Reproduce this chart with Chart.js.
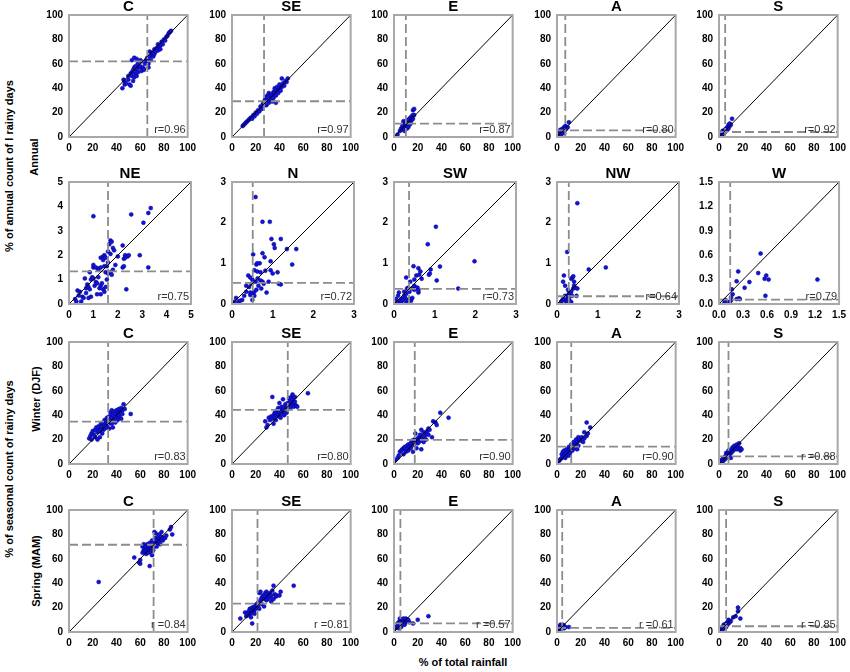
<!DOCTYPE html>
<html>
<head>
<meta charset="utf-8">
<script src="https://cdn.jsdelivr.net/npm/chart.js@4.4.1/dist/chart.umd.min.js"></script>
<style>
body {
    margin: 0;
    width: 850px;
    height: 672px;
    background: #fff;
    position: relative;
    overflow: hidden;
    font-family: "Liberation Sans", Arial, sans-serif;
}
canvas.panel { position: absolute; }
.ytitle, .xtitle {
    position: absolute;
    font-weight: bold;
    font-size: 11px;
    color: #000;
    white-space: nowrap;
}
.ytitle { transform: translate(-50%, -50%) rotate(-90deg); }
.xtitle { transform: translate(-50%, -50%); }
</style>
</head>
<body>

<div class="ytitle" style="left:9px; top:166px;">% of annual count of l rainy days</div>
<div class="ytitle" style="left:34px; top:157px;">Annual</div>
<div class="ytitle" style="left:9px; top:469px;">% of seasonal count of rainy days</div>
<div class="ytitle" style="left:36px; top:399px;">Winter (DJF)</div>
<div class="ytitle" style="left:36px; top:571px;">Spring (MAM)</div>
<div class="xtitle" style="left:463px; top:662px;">% of total rainfall</div>

<script>

// ================================
// DATA
// ================================

// tick values
const ticks100 = [0, 20, 40, 60, 80, 100];
const ticks5 = [0, 1, 2, 3, 4, 5];
const ticks3 = [0, 1, 2, 3];
const ticks15 = [0, 0.3, 0.6, 0.9, 1.2, 1.5];

// row 1 - annual, heavy classes
const annC = [[45,40],[46,47],[47,43],[47,45],[48,44],[50,50],[50,47],[51,43],[52,42],[52,52],[53,53],[53,50],[53,63],[54,55],[54,46],[55,49],[55,57],[55,65],[56,52],[56,58],[57,50],[57,55],[57,64],[58,53],[58,60],[59,57],[60,63],[60,58],[61,62],[61,54],[62,57],[63,56],[63,55],[64,60],[65,63],[66,65],[66,62],[67,60],[67,57],[68,66],[68,70],[69,63],[70,67],[70,69],[71,66],[72,68],[72,72],[73,70],[74,73],[75,71],[75,76],[76,74],[77,75],[77,72],[78,78],[79,76],[80,80],[81,79],[82,82],[83,83],[84,85],[85,86],[86,87]];
const annSE = [[9,9],[10,10],[11,11],[12,12],[13,13],[14,14],[15,15],[16,16],[17,15],[18,18],[19,17],[20,20],[21,19],[22,22],[23,21],[24,25],[25,23],[26,27],[27,29],[27,26],[28,31],[29,33],[29,26],[30,30],[30,34],[31,28],[31,36],[32,33],[33,35],[33,31],[34,34],[34,29],[35,37],[35,32],[36,36],[36,40],[37,34],[37,28],[38,38],[38,41],[39,36],[40,40],[40,43],[41,38],[42,48],[42,41],[43,44],[44,42],[45,46],[46,45],[47,48]];
const annE = [[3,2],[5,5],[6,7],[7,6],[7,9],[8,8],[8,11],[8,13],[9,10],[9,7],[9,5],[10,12],[10,9],[10,13],[11,13],[11,10],[11,7],[12,11],[12,14],[12,8],[13,12],[13,15],[13,10],[14,13],[14,16],[14,11],[15,14],[15,17],[16,15],[16,18],[16,22],[17,23],[17,18]];
const annA = [[1,1],[2,2],[2,3],[2,5],[3,1],[3,2],[3,4],[3,6],[4,3],[4,5],[4,6],[5,4],[5,5],[5,7],[6,3],[6,5],[6,6],[6,8],[7,6],[7,7],[7,9],[8,7],[8,8],[9,8],[10,12]];
const annS = [[0.5,0.5],[1,1],[1,2],[2,1],[2,2],[2,3],[3,2],[3,3],[3,4],[3,5],[4,3],[4,4],[4,5],[5,4],[5,5],[5,6],[6,5],[6,6],[6,7],[7,6],[7,8],[8,7],[8,10],[9,9],[9,11],[10,10],[11,15]];

// row 2 - annual, rare classes
const annNE = [[0,0],[0.25,0.2],[0.3,0.1],[0.35,0.55],[0.4,0.35],[0.45,0.5],[0.5,0.1],[0.55,0.3],[0.6,0.25],[0.65,1.05],[0.7,0.65],[0.7,0.45],[0.75,0.8],[0.8,0.7],[0.8,0.25],[0.85,0.6],[0.85,1.3],[0.9,1.0],[0.9,0.3],[0.95,1.1],[1.0,1.05],[1.0,1.5],[1.0,1.6],[1.0,3.6],[1.05,0.75],[1.1,0.9],[1.1,1.5],[1.15,0.85],[1.15,0.4],[1.2,1.1],[1.2,1.45],[1.2,1.4],[1.25,0.65],[1.3,0.75],[1.3,1.5],[1.3,1.9],[1.3,0.4],[1.35,0.85],[1.4,0.6],[1.4,1.8],[1.4,1.95],[1.45,0.5],[1.45,2.0],[1.45,1.55],[1.5,0.7],[1.5,1.9],[1.5,1.3],[1.55,1.0],[1.55,1.55],[1.6,1.7],[1.6,2.15],[1.6,1.25],[1.65,2.45],[1.7,2.6],[1.7,2.05],[1.7,1.3],[1.75,2.55],[1.75,1.2],[1.8,1.4],[1.8,2.3],[1.85,2.2],[1.9,1.6],[2.0,1.95],[2.2,2.4],[2.2,1.5],[2.25,1.85],[2.25,1.55],[2.3,2.0],[2.3,1.9],[2.35,0.6],[2.4,1.95],[2.45,2.0],[2.55,3.67],[2.9,2.0],[3.05,3.33],[3.25,3.73],[3.25,1.5],[3.35,3.93]];
const annN = [[0,0],[0.05,0.05],[0.1,0.15],[0.15,0.05],[0.2,0.08],[0.25,0.1],[0.3,0.2],[0.35,0.3],[0.35,0.45],[0.4,0.7],[0.42,0.42],[0.45,0.22],[0.45,0.65],[0.45,0.28],[0.48,0.5],[0.5,0.25],[0.5,0.1],[0.5,0.6],[0.52,1.22],[0.55,0.3],[0.55,0.83],[0.55,0.2],[0.58,0.55],[0.58,2.63],[0.6,0.35],[0.6,0.97],[0.62,1.0],[0.62,0.8],[0.63,0.63],[0.65,0.45],[0.68,1.0],[0.7,0.78],[0.7,0.58],[0.72,0.38],[0.75,1.25],[0.75,0.55],[0.75,2.02],[0.78,0.5],[0.8,1.15],[0.82,0.82],[0.85,0.28],[0.9,0.55],[0.93,2.02],[0.95,1.05],[0.95,0.83],[0.97,1.6],[1.0,0.75],[1.03,1.47],[1.05,1.38],[1.12,0.78],[1.15,0.5],[1.2,0.48],[1.2,1.6],[1.35,1.35],[1.48,0.97],[1.58,1.35]];
const annSW = [[0,0],[0.05,0.12],[0.08,0.05],[0.1,0.2],[0.12,0.28],[0.15,0.08],[0.18,0.05],[0.2,0.12],[0.22,0.1],[0.25,0.2],[0.25,0.3],[0.28,0.15],[0.3,0.25],[0.3,0.05],[0.3,0.65],[0.32,0.38],[0.35,0.4],[0.35,0.1],[0.38,0.3],[0.4,0.55],[0.4,0.12],[0.42,0.08],[0.45,0.38],[0.45,0.15],[0.48,0.93],[0.5,0.6],[0.5,0.45],[0.5,0.35],[0.55,0.4],[0.55,0.7],[0.58,0.4],[0.6,0.28],[0.6,0.33],[0.6,0.88],[0.62,0.72],[0.65,0.8],[0.68,0.62],[0.83,1.47],[0.86,0.72],[0.88,0.75],[0.9,0.85],[1.03,1.9],[1.05,0.58],[1.13,0.92],[1.58,0.38],[1.98,1.05]];
const annNW = [[0,0],[0.1,0.05],[0.12,0.08],[0.15,0.12],[0.15,0.55],[0.17,0.7],[0.18,0.1],[0.2,0.12],[0.2,0.45],[0.2,0.2],[0.22,0.15],[0.22,0.0],[0.25,0.2],[0.25,0.05],[0.25,1.28],[0.27,0.35],[0.28,0.02],[0.3,0.28],[0.3,0.1],[0.3,0.18],[0.32,0.25],[0.35,0.3],[0.35,0.05],[0.35,0.62],[0.37,0.2],[0.38,0.65],[0.4,0.68],[0.4,0.38],[0.42,0.55],[0.42,0.45],[0.45,0.4],[0.48,0.2],[0.5,0.38],[0.5,2.48],[0.78,0.85],[1.2,0.9]];
const annW = [[0,0],[0.07,0.02],[0.08,0.05],[0.13,0.02],[0.14,0.03],[0.15,0.05],[0.15,0.08],[0.16,0.18],[0.17,0.12],[0.22,0.06],[0.22,0.28],[0.24,0.4],[0.25,0.07],[0.26,0.06],[0.32,0.2],[0.38,0.27],[0.49,0.38],[0.52,0.62],[0.57,0.31],[0.58,0.1],[0.59,0.35],[0.62,0.3],[1.23,0.3]];

// row 3 - winter (DJF)
const winC = [[17,21],[18,23],[19,20],[19,25],[20,27],[21,24],[22,22],[22,28],[23,30],[24,26],[24,20],[25,29],[25,31],[26,22],[26,27],[27,30],[27,33],[28,25],[28,31],[29,28],[29,34],[30,32],[30,29],[30,36],[31,35],[31,31],[32,30],[32,38],[33,33],[33,36],[34,29],[34,39],[35,35],[35,42],[36,38],[36,33],[36,44],[37,40],[37,30],[38,36],[38,43],[39,41],[39,34],[40,38],[40,44],[41,42],[41,36],[42,40],[42,45],[43,43],[43,38],[44,46],[44,37],[45,44],[45,41],[46,49],[47,45],[52,41]];
const winSE = [[28,35],[29,30],[30,32],[31,38],[32,36],[33,39],[34,37],[34,55],[35,33],[35,40],[36,42],[36,38],[37,36],[37,41],[38,44],[38,40],[39,41],[39,46],[40,43],[40,39],[40,50],[41,45],[41,38],[42,47],[42,43],[43,41],[43,53],[44,46],[44,40],[45,49],[45,44],[46,47],[46,42],[47,50],[47,45],[48,54],[48,48],[49,52],[49,46],[50,55],[50,49],[51,57],[51,53],[52,50],[52,47],[53,51],[53,55],[54,48],[55,47],[64,58]];
const winE = [[1,3],[3,5],[4,7],[5,10],[6,11],[7,12],[8,8],[8,13],[9,14],[10,12],[10,10],[11,15],[12,16],[12,11],[13,14],[14,17],[14,13],[15,15],[15,19],[16,17],[16,10],[17,20],[17,16],[18,18],[18,25],[19,19],[19,13],[20,21],[20,17],[21,22],[21,18],[22,24],[22,20],[23,12],[23,28],[24,22],[24,19],[25,26],[25,18],[26,23],[27,25],[27,20],[28,27],[29,29],[29,24],[30,28],[32,22],[33,35],[35,34],[36,32],[39,42],[46,38]];
const winA = [[1,1],[2,3],[3,4],[4,5],[4,8],[5,6],[5,10],[6,7],[6,11],[7,8],[7,5],[8,9],[8,12],[9,10],[9,7],[10,11],[10,14],[10,7],[11,12],[11,9],[12,13],[12,16],[13,14],[13,11],[14,15],[14,18],[15,16],[15,13],[16,17],[16,20],[17,18],[17,12],[18,15],[18,22],[19,20],[20,19],[21,22],[22,18],[23,21],[23,26],[25,34],[25,23],[26,25],[28,30]];
const winS = [[0.5,0.5],[1,1],[1,2],[2,1],[2,3],[3,2],[3,4],[4,3],[4,5],[5,4],[5,6],[6,5],[6,7],[6,9],[7,6],[7,8],[8,7],[8,9],[8,11],[9,8],[9,10],[10,9],[10,11],[10,5],[11,10],[11,13],[12,11],[12,14],[13,12],[13,15],[14,13],[15,12],[15,16],[16,14],[17,13],[17,17],[18,11],[18,13],[19,12]];

// row 4 - spring (MAM)
const sprC = [[25,41],[55,61],[59,57],[60,56],[60,59],[62,65],[62,70],[63,67],[63,72],[64,69],[64,66],[65,70],[65,64],[65,67],[66,68],[66,72],[67,67],[67,71],[67,65],[68,54],[68,70],[68,73],[69,66],[69,72],[70,69],[70,75],[70,63],[71,71],[71,67],[72,74],[72,70],[72,82],[73,72],[73,77],[73,81],[74,75],[74,70],[75,73],[75,78],[76,74],[76,80],[77,76],[77,72],[78,78],[78,82],[79,75],[80,77],[81,77],[82,79],[85,84],[86,86],[87,80]];
const sprSE = [[7,11],[11,16],[12,13],[13,15],[14,17],[14,14],[15,19],[16,18],[16,15],[16,12],[17,7],[17,20],[18,19],[18,17],[19,21],[19,18],[19,15],[20,22],[20,19],[21,23],[21,20],[22,24],[22,21],[23,19],[23,32],[24,26],[24,33],[25,23],[25,28],[26,30],[27,27],[27,21],[28,32],[28,29],[29,26],[29,33],[30,31],[30,27],[31,29],[32,32],[32,28],[33,30],[33,25],[34,34],[35,38],[35,27],[36,31],[37,29],[38,30],[40,30],[41,33],[52,38]];
const sprE = [[1,3],[2,4],[3,5],[3,7],[4,6],[4,8],[4,3],[5,5],[5,9],[5,11],[6,7],[6,10],[6,4],[7,6],[7,8],[7,10],[8,9],[8,7],[8,11],[9,10],[9,6],[10,8],[10,11],[11,9],[12,10],[13,8],[16,7],[20,10],[29,13]];
const sprA = [[0,0],[0.5,1],[1,0.5],[1,2],[1,4],[2,1],[2,3],[2,5],[3,2],[3,4],[3,6],[4,3],[4,5],[5,4],[5,6],[6,3],[6,5],[7,4],[10,4]];
const sprS = [[0.5,0.5],[1,1],[1,2],[2,1],[2,3],[3,2],[3,4],[4,3],[4,5],[4,6],[5,4],[5,6],[6,5],[6,7],[6,4],[7,6],[7,8],[8,7],[8,10],[9,8],[10,9],[12,12],[14,13],[16,17],[16,20],[18,11]];

// panel grid
const series = [
    [annC, annSE, annE, annA, annS],
    [annNE, annN, annSW, annNW, annW],
    [winC, winSE, winE, winA, winS],
    [sprC, sprSE, sprE, sprA, sprS]
];

const titles = [
    ["C", "SE", "E", "A", "S"],
    ["NE", "N", "SW", "NW", "W"],
    ["C", "SE", "E", "A", "S"],
    ["C", "SE", "E", "A", "S"]
];

const rLabels = [
    ["r=0.96", "r=0.97", "r=0.87", "r=0.80", "r=0.92"],
    ["r=0.75", "r=0.72", "r=0.73", "r=0.64", "r=0.79"],
    ["r=0.83", "r=0.80", "r=0.90", "r=0.90", "r =0.88"],
    ["r =0.84", "r =0.81", "r =0.57", "r =0.61", "r =0.85"]
];

// mean of rainfall share (vertical dashed) and of rainy-day share (horizontal dashed)
const meanX = [
    [66, 27, 10, 7, 5.2],
    [1.6, 0.51, 0.37, 0.29, 0.14],
    [33, 47, 17.5, 12, 8],
    [71.3, 21.5, 5.4, 4.4, 6]
];

const meanY = [
    [62, 29.3, 11, 5.5, 4.1],
    [1.34, 0.52, 0.37, 0.19, 0.055],
    [34.8, 44.4, 19.7, 14.2, 6.3],
    [71.5, 23.3, 7.1, 3.3, 4.7]
];

const axisTicks = [
    [ticks100, ticks100, ticks100, ticks100, ticks100],
    [ticks5, ticks3, ticks3, ticks3, ticks15],
    [ticks100, ticks100, ticks100, ticks100, ticks100],
    [ticks100, ticks100, ticks100, ticks100, ticks100]
];

// ================================
// LAYOUT
// ================================

const colLeft = [69, 232, 394, 557, 719];
const rowTop = [15, 182, 342, 510];
const plotSize = 122;
const yAxisW = 30;
const xAxisH = 18;
const titleH = 23;
const padRight = 10;

Chart.defaults.font.family = '"Liberation Sans", Arial, sans-serif';
Chart.defaults.color = "#000";

// frame round the plot area and the r label
const decorPlugin = {
    id: "panelDecor",
    afterDraw(chart, args, opts) {
        const a = chart.chartArea;
        const ctx = chart.ctx;
        ctx.save();
        ctx.strokeStyle = "#a8a8a8";
        ctx.lineWidth = 2;
        ctx.strokeRect(a.left, a.top, a.right - a.left, a.bottom - a.top);
        ctx.fillStyle = "#333";
        ctx.font = '11px "Liberation Sans", Arial, sans-serif';
        ctx.textAlign = "right";
        ctx.textBaseline = "middle";
        ctx.fillText(opts.label, a.right - 2, a.bottom - 7);
        ctx.restore();
    }
};

function makeAxis(tickVals, isY) {
    const decimals = tickVals[tickVals.length - 1] < 2 ? 1 : 0;
    return {
        type: "linear",
        min: tickVals[0],
        max: tickVals[tickVals.length - 1],
        afterBuildTicks: s => {
            s.ticks = tickVals.map(v => ({ value: v }));
        },
        afterFit: s => {
            if (isY) s.width = yAxisW;
            else s.height = xAxisH;
        },
        grid: { display: false, drawTicks: false },
        border: { display: false },
        ticks: {
            padding: isY ? 6 : 5,
            maxRotation: 0,
            autoSkip: false,
            font: { size: 10, weight: "bold" },
            color: "#000",
            callback: v => v.toFixed(decimals)
        }
    };
}

// ================================
// PANELS
// ================================

series.forEach((rowData, r) => {

    rowData.forEach((pts, c) => {

        const tickVals = axisTicks[r][c];
        const max = tickVals[tickVals.length - 1];

        const canvas = document.createElement("canvas");
        canvas.className = "panel";
        canvas.width = yAxisW + plotSize + padRight;
        canvas.height = titleH + plotSize + xAxisH;
        canvas.style.left = (colLeft[c] - yAxisW) + "px";
        canvas.style.top = (rowTop[r] - titleH) + "px";
        document.body.appendChild(canvas);

        const lineStyle = {
            showLine: true,
            pointRadius: 0,
            pointHoverRadius: 0,
            fill: false
        };

        new Chart(canvas, {
            type: "scatter",
            data: {
                datasets: [
                    {
                        data: pts.map(p => ({ x: p[0], y: p[1] })),
                        backgroundColor: "#1414d8",
                        borderColor: "#000090",
                        borderWidth: 0.5,
                        pointRadius: 2,
                        order: 3
                    },
                    Object.assign({
                        data: [{ x: 0, y: 0 }, { x: max, y: max }],
                        borderColor: "#000",
                        borderWidth: 1,
                        order: 1
                    }, lineStyle),
                    Object.assign({
                        data: [{ x: 0, y: meanY[r][c] }, { x: max, y: meanY[r][c] }],
                        borderColor: "#8c8c8c",
                        borderWidth: 1.8,
                        borderDash: [9, 4],
                        order: 2
                    }, lineStyle),
                    Object.assign({
                        data: [{ x: meanX[r][c], y: 0 }, { x: meanX[r][c], y: max }],
                        borderColor: "#8c8c8c",
                        borderWidth: 1.8,
                        borderDash: [9, 4],
                        order: 2
                    }, lineStyle)
                ]
            },
            options: {
                responsive: false,
                animation: false,
                events: [],
                layout: { padding: { left: 0, right: padRight, top: 0, bottom: 0 } },
                plugins: {
                    legend: { display: false },
                    tooltip: { enabled: false },
                    title: {
                        display: true,
                        text: titles[r][c],
                        fullSize: false,
                        color: "#000",
                        font: { size: 15, weight: "bold", lineHeight: "16px" },
                        padding: { top: titleH - 16, bottom: 0 }
                    },
                    panelDecor: { label: rLabels[r][c] }
                },
                scales: {
                    x: makeAxis(tickVals, false),
                    y: makeAxis(tickVals, true)
                }
            },
            plugins: [decorPlugin]
        });

    });

});

</script>
</body>
</html>
